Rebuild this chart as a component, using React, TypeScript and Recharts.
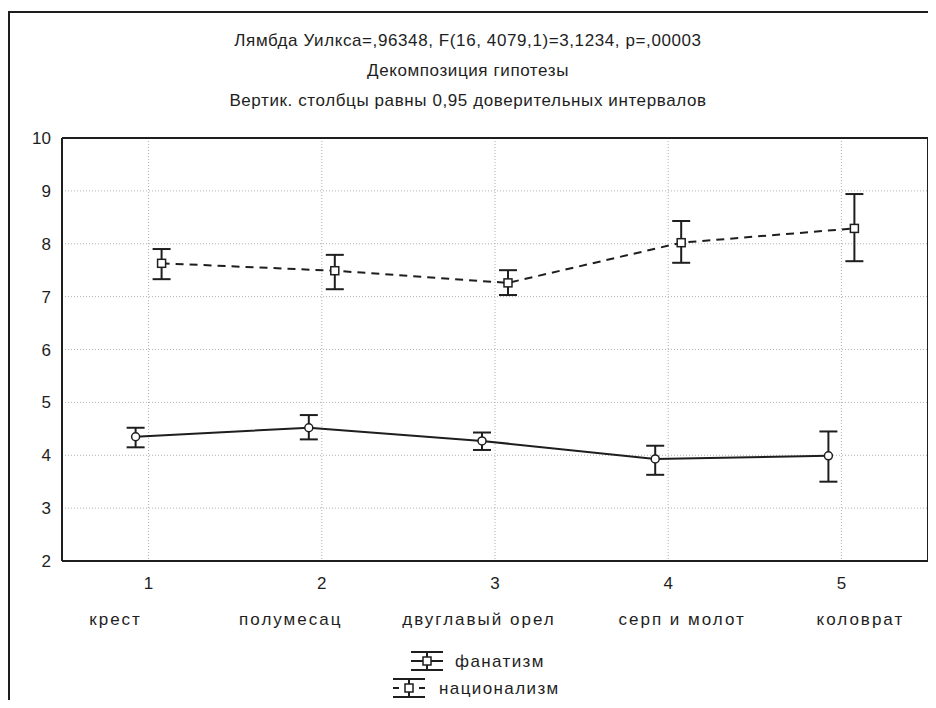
import { ComposedChart, Line, ErrorBar, XAxis, YAxis, CartesianGrid } from "recharts";

const categories = ["крест", "полумесац", "двуглавый орел", "серп и молот", "коловрат"];
const positions = [1, 2, 3, 4, 5];
const yTicks = [2, 3, 4, 5, 6, 7, 8, 9, 10];

// фанатизм: mean and 0.95 CI
const fanMean = [4.35, 4.52, 4.27, 3.93, 3.99];
const fanLow = [4.15, 4.3, 4.1, 3.63, 3.5];
const fanHigh = [4.52, 4.76, 4.43, 4.18, 4.45];

// национализм: mean and 0.95 CI
const natMean = [7.63, 7.49, 7.26, 8.02, 8.29];
const natLow = [7.33, 7.14, 7.03, 7.64, 7.67];
const natHigh = [7.9, 7.79, 7.5, 8.43, 8.94];

const titleLines = [
  "Лямбда Уилкса=,96348, F(16, 4079,1)=3,1234, p=,00003",
  "Декомпозиция гипотезы",
  "Вертик. столбцы равны 0,95 доверительных интервалов",
];

// small horizontal shift so the two series don't overlap
const seriesShift = 0.075;
// name labels are not centred under the ticks in the original
const labelShift = [-33, -31, -16, 14, 19];

const build = (mean: number[], low: number[], high: number[], shift: number) =>
  positions.map((p, i) => ({
    x: p + shift,
    y: mean[i],
    err: [mean[i] - low[i], high[i] - mean[i]],
  }));

const fanData = build(fanMean, fanLow, fanHigh, -seriesShift);
const natData = build(natMean, natLow, natHigh, seriesShift);

const FONT = '"Liberation Sans", Arial, sans-serif';
const INK = "#1e1e1e";

const XTick = (props: any) => {
  const { x, y, payload } = props;
  const i = positions.indexOf(payload.value);
  return (
    <g>
      <text x={x} y={y + 20} textAnchor="middle" fontSize={17} fill={INK} fontFamily={FONT}>
        {payload.value}
      </text>
      <text
        x={x + (labelShift[i] ?? 0)}
        y={y + 56}
        textAnchor="middle"
        fontSize={17}
        letterSpacing={2}
        fill={INK}
        fontFamily={FONT}
      >
        {categories[i]}
      </text>
    </g>
  );
};

const squareDot = (p: any) => (
  <rect key={`n${p.index}`} x={p.cx - 4} y={p.cy - 4} width={8} height={8} fill="#fff" stroke={INK} strokeWidth={1.5} />
);
const roundDot = (p: any) => (
  <circle key={`f${p.index}`} cx={p.cx} cy={p.cy} r={4} fill="#fff" stroke={INK} strokeWidth={1.5} />
);

const LegendIcon = ({ x, y, dashed }: { x: number; y: number; dashed?: boolean }) => (
  <g stroke={INK} strokeWidth={2}>
    <line x1={x - 16} y1={y - 9} x2={x + 16} y2={y - 9} />
    <line x1={x - 16} y1={y + 9} x2={x + 16} y2={y + 9} />
    <line x1={x} y1={y - 9} x2={x} y2={y + 9} />
    {dashed ? (
      <>
        <line x1={x - 16} y1={y} x2={x - 10} y2={y} />
        <line x1={x + 10} y1={y} x2={x + 16} y2={y} />
      </>
    ) : (
      <line x1={x - 16} y1={y} x2={x + 16} y2={y} />
    )}
    <rect x={x - 4} y={y - 4} width={8} height={8} fill="#fff" strokeWidth={1.5} />
  </g>
);

export default function App() {
  return (
    <div style={{ position: "relative", width: 936, height: 708, margin: -8, background: "#fff", fontFamily: FONT }}>
      {/* window frame */}
      <div
        style={{
          position: "absolute",
          left: 8,
          top: 11,
          width: 928,
          height: 697,
          borderLeft: `2px solid ${INK}`,
          borderTop: `2px solid ${INK}`,
          boxSizing: "border-box",
        }}
      />
      {titleLines.map((t, i) => (
        <div
          key={i}
          style={{
            position: "absolute",
            left: 0,
            width: 936,
            top: 31 + i * 30,
            lineHeight: "20px",
            textAlign: "center",
            fontSize: 17,
            letterSpacing: 0.6,
            color: INK,
          }}
        >
          {t}
        </div>
      ))}
      <div style={{ position: "absolute", left: 0, top: 0 }}>
        <ComposedChart width={936} height={708} margin={{ top: 138, right: 8, bottom: 67, left: 0 }}>
          <CartesianGrid stroke="#b0b0b0" strokeDasharray="1 2" />
          <XAxis
            xAxisId={0}
            type="number"
            dataKey="x"
            domain={[0.5, 5.5]}
            ticks={positions}
            allowDataOverflow
            height={80}
            axisLine={{ stroke: INK, strokeWidth: 2 }}
            tickLine={false}
            tick={<XTick />}
          />
          <XAxis
            xAxisId="bin"
            type="number"
            domain={[0.5, 5.5]}
            ticks={positions}
            allowDataOverflow
            mirror
            axisLine={false}
            tick={false}
            tickSize={5}
            tickLine={{ stroke: INK, strokeWidth: 2 }}
          />
          <XAxis
            xAxisId="top"
            orientation="top"
            type="number"
            domain={[0.5, 5.5]}
            ticks={positions}
            allowDataOverflow
            mirror
            axisLine={{ stroke: INK, strokeWidth: 2 }}
            tick={false}
            tickSize={5}
            tickLine={{ stroke: INK, strokeWidth: 2 }}
          />
          <YAxis
            yAxisId={0}
            type="number"
            domain={[2, 10]}
            ticks={yTicks}
            allowDataOverflow
            width={62}
            tickMargin={5}
            axisLine={{ stroke: INK, strokeWidth: 2 }}
            tickLine={false}
            tick={{ fontSize: 17, fill: INK, fontFamily: FONT }}
          />
          <YAxis
            yAxisId="lin"
            type="number"
            domain={[2, 10]}
            ticks={yTicks}
            allowDataOverflow
            mirror
            axisLine={false}
            tick={false}
            tickSize={5}
            tickLine={{ stroke: INK, strokeWidth: 2 }}
          />
          <YAxis
            yAxisId="right"
            orientation="right"
            type="number"
            domain={[2, 10]}
            ticks={yTicks}
            allowDataOverflow
            mirror
            axisLine={{ stroke: INK, strokeWidth: 2 }}
            tick={false}
            tickSize={5}
            tickLine={{ stroke: INK, strokeWidth: 2 }}
          />
          <Line
            data={natData}
            dataKey="y"
            name="национализм"
            type="linear"
            stroke={INK}
            strokeWidth={2}
            strokeDasharray="8 6"
            dot={squareDot}
            activeDot={false}
            isAnimationActive={false}
          >
            <ErrorBar dataKey="err" direction="y" width={9} stroke={INK} strokeWidth={2} />
          </Line>
          <Line
            data={fanData}
            dataKey="y"
            name="фанатизм"
            type="linear"
            stroke={INK}
            strokeWidth={2}
            dot={roundDot}
            activeDot={false}
            isAnimationActive={false}
          >
            <ErrorBar dataKey="err" direction="y" width={9} stroke={INK} strokeWidth={2} />
          </Line>
        </ComposedChart>
      </div>
      <svg style={{ position: "absolute", left: 0, top: 640 }} width={936} height={68}>
        <LegendIcon x={427} y={21} />
        <text x={455} y={27} fontSize={17} letterSpacing={1.4} fill={INK} fontFamily={FONT}>
          фанатизм
        </text>
        <LegendIcon x={409} y={48} dashed />
        <text x={439} y={54} fontSize={17} letterSpacing={1.4} fill={INK} fontFamily={FONT}>
          национализм
        </text>
      </svg>
    </div>
  );
}
